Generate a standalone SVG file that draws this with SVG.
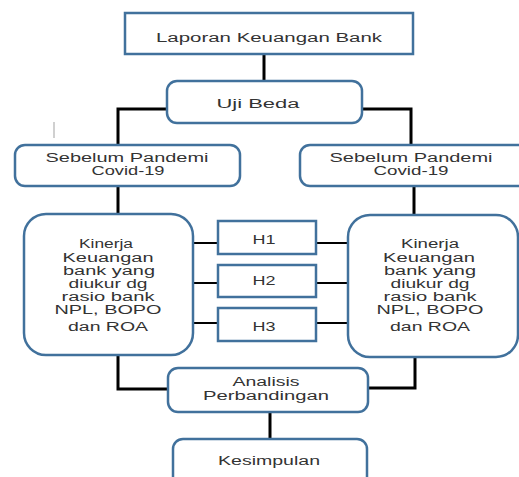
<svg xmlns="http://www.w3.org/2000/svg" width="519" height="477" viewBox="0 0 519 477">
<style>
.box{fill:#fff;stroke:#41719c;stroke-width:2.5}
.c{fill:none;stroke:#000;stroke-width:3}
.ch{fill:none;stroke:#000;stroke-width:2}
text{font-family:"Liberation Sans",Arial,sans-serif;font-size:12px;fill:#333;text-anchor:middle}
</style>
<rect width="519" height="477" fill="#fff"/>
<line x1="54" y1="122" x2="54" y2="138" stroke="#d0d0d0" stroke-width="2"/>
<g id="connectors">
<line class="c" x1="264" y1="54" x2="264" y2="81"/>
<polyline class="c" points="168,109 118,109 118,145"/>
<polyline class="c" points="361,109 411,109 411,145"/>
<line class="c" x1="118" y1="186" x2="118" y2="214"/>
<line class="c" x1="414" y1="186" x2="414" y2="216"/>
<line class="ch" x1="193" y1="243" x2="218" y2="243"/>
<line class="ch" x1="316" y1="243" x2="348" y2="243"/>
<line class="ch" x1="193" y1="283" x2="218" y2="283"/>
<line class="ch" x1="316" y1="283" x2="348" y2="283"/>
<line class="ch" x1="193" y1="323" x2="218" y2="323"/>
<line class="ch" x1="316" y1="323" x2="348" y2="323"/>
<polyline class="c" points="118,355 118,389 168,389"/>
<polyline class="c" points="415,357 415,388 368,388"/>
<line class="c" x1="270" y1="412" x2="270" y2="439"/>
</g>
<g id="laporan">
<rect class="box" x="125" y="13" width="288" height="41"/>
<text x="269" y="42" textLength="226" lengthAdjust="spacingAndGlyphs">Laporan Keuangan Bank</text>
</g>
<g id="uji">
<rect class="box" x="167" y="81" width="195" height="42" rx="10"/>
<text x="258" y="108" textLength="83" lengthAdjust="spacingAndGlyphs">Uji Beda</text>
</g>
<g id="sebelum1">
<rect class="box" x="15" y="145" width="225" height="41" rx="10"/>
<text x="127" y="162" textLength="163" lengthAdjust="spacingAndGlyphs">Sebelum Pandemi</text>
<text x="128" y="175" textLength="73" lengthAdjust="spacingAndGlyphs">Covid-19</text>
</g>
<g id="sebelum2">
<rect class="box" x="300" y="145" width="230" height="41" rx="10"/>
<text x="411" y="162" textLength="163" lengthAdjust="spacingAndGlyphs">Sebelum Pandemi</text>
<text x="411" y="175" textLength="75" lengthAdjust="spacingAndGlyphs">Covid-19</text>
</g>
<g id="kinerja1">
<rect class="box" x="24" y="214" width="169" height="141" rx="22"/>
<text x="106" y="248" textLength="54" lengthAdjust="spacingAndGlyphs">Kinerja</text>
<text x="108" y="262" textLength="91" lengthAdjust="spacingAndGlyphs">Keuangan</text>
<text x="109" y="275" textLength="92" lengthAdjust="spacingAndGlyphs">bank yang</text>
<text x="108" y="288" textLength="79" lengthAdjust="spacingAndGlyphs">diukur dg</text>
<text x="108" y="301" textLength="93" lengthAdjust="spacingAndGlyphs">rasio bank</text>
<text x="108" y="314" textLength="107" lengthAdjust="spacingAndGlyphs">NPL, BOPO</text>
<text x="108" y="331" textLength="80" lengthAdjust="spacingAndGlyphs">dan ROA</text>
</g>
<g id="kinerja2">
<rect class="box" x="348" y="215" width="170" height="142" rx="22"/>
<text x="430" y="248" textLength="58" lengthAdjust="spacingAndGlyphs">Kinerja</text>
<text x="429" y="262" textLength="92" lengthAdjust="spacingAndGlyphs">Keuangan</text>
<text x="430" y="275" textLength="92" lengthAdjust="spacingAndGlyphs">bank yang</text>
<text x="430" y="288" textLength="79" lengthAdjust="spacingAndGlyphs">diukur dg</text>
<text x="430" y="301" textLength="93" lengthAdjust="spacingAndGlyphs">rasio bank</text>
<text x="430" y="314" textLength="107" lengthAdjust="spacingAndGlyphs">NPL, BOPO</text>
<text x="430" y="331" textLength="80" lengthAdjust="spacingAndGlyphs">dan ROA</text>
</g>
<g id="h1">
<rect class="box" x="218" y="221" width="98" height="33"/>
<text x="264" y="244" textLength="23" lengthAdjust="spacingAndGlyphs">H1</text>
</g>
<g id="h2">
<rect class="box" x="218" y="265" width="98" height="32"/>
<text x="264" y="285" textLength="23" lengthAdjust="spacingAndGlyphs">H2</text>
</g>
<g id="h3">
<rect class="box" x="218" y="308" width="98" height="33"/>
<text x="264" y="331" textLength="23" lengthAdjust="spacingAndGlyphs">H3</text>
</g>
<g id="analisis">
<rect class="box" x="168" y="368" width="200" height="44" rx="10"/>
<text x="266" y="386" textLength="67" lengthAdjust="spacingAndGlyphs">Analisis</text>
<text x="266" y="400" textLength="126" lengthAdjust="spacingAndGlyphs">Perbandingan</text>
</g>
<g id="kesimpulan">
<rect class="box" x="173" y="439" width="194" height="50" rx="10"/>
<text x="269" y="465" textLength="102" lengthAdjust="spacingAndGlyphs">Kesimpulan</text>
</g>
</svg>
